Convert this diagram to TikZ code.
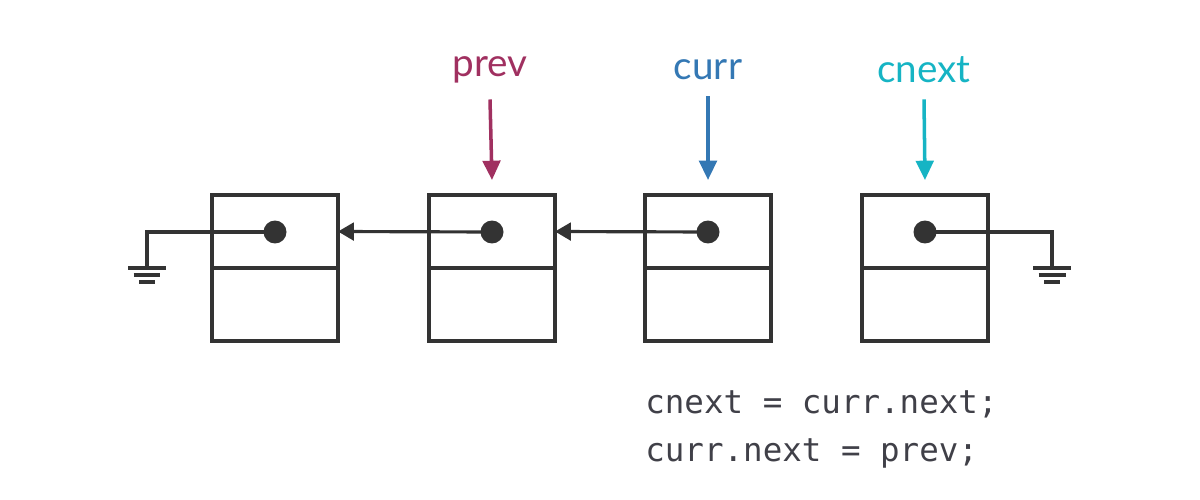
\documentclass[tikz,border=0pt]{standalone}
\usepackage{fontspec}
\setmainfont{Lato}
\newfontfamily\codefont{DejaVu Sans Mono}
\usetikzlibrary{positioning, arrows.meta}
\definecolor{inkgray}{RGB}{51, 51, 51}
\definecolor{prevred}{RGB}{160, 48, 96}
\definecolor{currblue}{RGB}{52, 120, 180}
\definecolor{nextteal}{RGB}{22, 180, 196}
\definecolor{codegray}{RGB}{64, 64, 72}

\begin{document}
\begin{tikzpicture}[
    x=0.02cm, y=-0.02cm,
    cell/.style={draw=inkgray, line width=1.8pt, minimum width=2.52cm, minimum height=1.46cm, inner sep=0pt, outer sep=0pt},
    dot/.style={circle, fill=inkgray, minimum size=0.46cm, inner sep=0pt},
    link/.style={draw=inkgray, line width=1.8pt, -{Triangle[length=9pt, width=10pt]}},
    wire/.style={draw=inkgray, line width=1.8pt},
    ptr/.style={line width=2pt, -{Triangle[length=11pt, width=10pt]}},
    lbl/.style={font=\fontsize{22}{24}\selectfont},
  ]
  \useasboundingbox (0,0) rectangle (1200,500);

  % list boxes
  \foreach \n/\x in {1/275, 2/492, 3/708, 4/925} {
      \node[cell] (t\n) at (\x,231.5) {};
      \node[cell, below=0pt of t\n] (b\n) {};
      \node[dot] (d\n) at (\x,232) {};
    }

  % links
  \draw[link] (d2.center) -- (t1.east);
  \draw[link] (d3.center) -- (t2.east);

  % null ends
  \coordinate (gl) at (147,268);
  \coordinate (gr) at (1052,268);
  \draw[wire] (d1.center) -| (gl);
  \draw[wire] (d4.center) -| (gr);
  \foreach \g in {gl, gr} {
      \draw[wire] ([xshift=-0.38cm]\g) -- ([xshift=0.38cm]\g);
      \draw[wire] ([xshift=-0.27cm, yshift=-0.14cm]\g) -- ([xshift=0.27cm, yshift=-0.14cm]\g);
      \draw[wire] ([xshift=-0.16cm, yshift=-0.28cm]\g) -- ([xshift=0.16cm, yshift=-0.28cm]\g);
    }

  % pointers
  \node[lbl, text=prevred] (prev) at (490,70) {prev};
  \node[lbl, text=currblue] (curr) at (708,70) {curr};
  \node[lbl, text=nextteal] (cnext) at (924,70) {cnext};
  \draw[ptr, prevred] ([yshift=-0.2cm]prev.south) -- ([yshift=0.3cm]t2.north);
  \draw[ptr, currblue] ([yshift=-0.2cm]curr.south) -- ([yshift=0.3cm]t3.north);
  \draw[ptr, nextteal] ([yshift=-0.2cm]cnext.south) -- ([yshift=0.3cm]t4.north);

  % code
  \node[anchor=north west, align=left, text=codegray, inner sep=0pt,
    font=\codefont\fontsize{18.5}{27.5}\selectfont] (code) at (645,390)
    {cnext = curr.next;\\curr.next = prev;};
\end{tikzpicture}
\end{document}
